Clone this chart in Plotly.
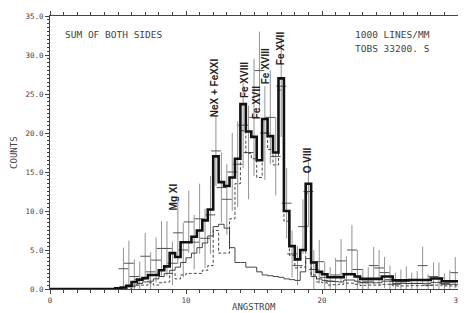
import plotly.graph_objects as go

# ---- data (0.4 Angstrom bins, 0 - 30 A) ----
bin_width = 0.4
n_bins = 75
bin_edges = [round(i * bin_width, 2) for i in range(n_bins + 1)]
bin_centers = [round((i + 0.5) * bin_width, 2) for i in range(n_bins)]

model_total = [0]*12 + [
    0.1, 0.2, 0.4, 0.9, 1.2, 1.4, 1.8, 1.8, 2.4, 2.9,
    4.6, 4.1, 6.0, 6.0, 6.7, 7.5, 8.8, 10.2, 17.0, 13.7,
    13.2, 14.3, 16.7, 23.7, 20.2, 19.5, 16.5, 21.8, 19.6, 17.5,
    27.0, 10.0, 5.5, 3.8, 5.0, 13.5, 3.4, 2.2, 1.9, 1.5,
    1.5, 1.5, 1.9, 1.9, 1.6, 1.3, 1.3, 1.3, 1.3, 1.6,
    1.6, 1.1, 1.1, 1.1, 1.15, 1.15, 1.15, 1.15, 1.35, 1.35,
    1.0, 1.0, 1.0]

model_continuum = [0]*12 + [
    0.05, 0.1, 0.3, 0.5, 0.7, 0.9, 1.0, 1.3, 1.6, 2.0,
    2.4, 2.8, 3.4, 4.0, 4.6, 5.3, 5.9, 6.8, 8.0, 8.3,
    7.8, 5.3, 3.4, 3.4, 2.8, 2.8, 2.2, 1.8, 1.7, 1.6,
    1.5, 1.3, 1.2, 1.1, 2.2, 3.9, 1.6, 1.3, 1.1, 1.0,
    0.95, 0.9, 1.15, 1.15, 1.0, 0.85, 0.8, 0.8, 0.8, 1.0,
    1.0, 0.7, 0.7, 0.7, 0.72, 0.72, 0.72, 0.72, 0.85, 0.85,
    0.6, 0.6, 0.6]

model_lines = [0]*15 + [
    0.3, 0.5, 0.5, 0.8, 0.5, 0.8, 0.9,
    2.0, 1.3, 1.8, 2.0, 2.0, 2.0, 2.4, 3.0, 7.5, 4.6,
    4.6, 9.0, 13.5, 20.3, 17.4, 16.7, 14.3, 20.0, 17.9, 15.9,
    25.5, 8.7, 4.3, 2.7, 2.8, 12.3, 1.8, 0.9, 0.8, 0.5,
    0.55, 0.6, 0.75, 0.75, 0.6, 0.45, 0.5, 0.5, 0.5, 0.6,
    0.6, 0.4, 0.4, 0.4, 0.43, 0.43, 0.43, 0.43, 0.5, 0.5,
    0.4, 0.4, 0.4]

obs_counts = [None]*13 + [
    2.6, 3.3, 1.6, 1.2, 4.2, 2.2, 3.7, 5.2, 5.2, 3.3,
    7.2, 5.0, 8.6, 6.0, 9.0, 6.5, 9.5, 17.7, 13.0, 11.5,
    15.0, 16.0, 21.0, 17.5, 22.0, 28.0, 20.0, 22.0, 17.0, 26.0,
    11.0, 4.5, 3.0, 8.0, 12.5, 2.5, 3.5, 1.5, 1.0, 1.8,
    3.6, 2.0, 5.0, 2.5, 0.8, 1.0, 3.0, 2.7, 2.1, 1.2,
    0.6, 0.9, 1.2, 0.7, 0.7, 3.0, 0.5, 1.6, 1.4, 0.7,
    0.9, 2.1]

obs_errors = [0]*13 + [
    2.7, 2.9, 2.2, 2.3, 3.0, 2.5, 2.9, 3.5, 3.5, 2.8,
    4.0, 3.5, 4.0, 3.5, 4.5, 3.8, 5.0, 4.5, 4.5, 4.5,
    5.0, 5.5, 5.5, 6.0, 7.5, 5.0, 6.0, 6.0, 5.0, 6.5,
    4.5, 3.0, 2.5, 3.5, 4.5, 2.5, 2.8, 2.0, 1.8, 2.2,
    2.8, 2.2, 3.2, 2.5, 1.8, 1.8, 2.4, 2.3, 2.0, 1.8,
    1.5, 1.6, 1.7, 1.4, 1.6, 2.4, 1.4, 1.8, 2.0, 1.3,
    1.5, 2.0]

line_labels = ["Mg XI", "NeX + FeXXI", "Fe XVIII", "Fe XVII", "Fe XVIII", "Fe XVII", "O VIII"]
label_wl = [9.15, 12.1, 14.35, 15.2, 15.85, 17.0, 18.9]
label_height = [11.8, 25.8, 26.8, 23.9, 28.5, 30.9, 16.5]

info_left = "SUM OF BOTH SIDES"
info_right = ["1000 LINES/MM", "TOBS 33200. S"]

MONO = "DejaVu Sans Mono"
INK = "#222"
GREY = "#444"

# plot-area geometry (figure pixels); page has an 8px body margin
PL, PT, PW, PH = 42, 6, 413, 275

def steps(vals):
    return vals + [vals[-1]]

def px(xp):  # page x pixel -> paper x
    return (xp - 8 - PL) / PW

def py(yp):  # page y pixel -> paper y
    return (PT + PH - (yp - 8)) / PH

fig = go.Figure()

fig.add_trace(go.Scatter(
    x=bin_centers, y=obs_counts, mode="markers",
    marker=dict(symbol="line-ew", size=7, line=dict(width=1, color="#555"), color="#555"),
    error_y=dict(type="data", array=obs_errors, thickness=0.8, width=0, color="#777"),
    showlegend=False, cliponaxis=True))

fig.add_trace(go.Scatter(x=bin_edges, y=steps(model_continuum), mode="lines",
                         line=dict(shape="hv", color="#333", width=0.9), showlegend=False))
fig.add_trace(go.Scatter(x=bin_edges, y=steps(model_lines), mode="lines",
                         line=dict(shape="hv", color="#333", width=0.9, dash="3px,2px"), showlegend=False))
fig.add_trace(go.Scatter(x=bin_edges, y=steps(model_total), mode="lines",
                         line=dict(shape="hv", color="#111", width=2.6), showlegend=False))

annotations = []
for txt, wl, h in zip(line_labels, label_wl, label_height):
    annotations.append(dict(x=wl, y=h, xref="x", yref="y", text="<b>" + txt + "</b>",
                            textangle=-90, showarrow=False,
                            font=dict(family="Liberation Sans", size=10, color=INK)))

annotations.append(dict(x=px(63), y=py(33), xref="paper", yref="paper",
                        text=info_left, showarrow=False, xanchor="left", yanchor="middle",
                        font=dict(family=MONO, size=9.5, color=GREY)))
for i, t in enumerate(info_right):
    annotations.append(dict(x=px(437), y=py(33 + 14 * i), xref="paper", yref="paper",
                            text=t, showarrow=False, xanchor="right", yanchor="middle",
                            font=dict(family=MONO, size=9.5, color=GREY)))
annotations.append(dict(x=px(256), y=py(307), xref="paper", yref="paper",
                        text="ANGSTROM", showarrow=False, xanchor="center", yanchor="middle",
                        font=dict(family=MONO, size=9, color=GREY)))
annotations.append(dict(x=px(13.5), y=py(151), xref="paper", yref="paper",
                        text="COUNTS", showarrow=False, textangle=-90, xanchor="center", yanchor="middle",
                        font=dict(family=MONO, size=9, color=GREY)))

fig.update_layout(
    width=458, height=305,
    margin=dict(l=PL, r=458 - PL - PW, t=PT, b=305 - PT - PH),
    paper_bgcolor="white", plot_bgcolor="white",
    annotations=annotations,
    xaxis=dict(range=[0, 30], tickvals=[0, 10, 20, 30], ticktext=["0", "10", "20", "30"],
               ticks="outside", ticklen=4, tickcolor=GREY, tickwidth=1,
               minor=dict(dtick=1, ticklen=3, ticks="outside", tickcolor=GREY),
               showline=True, linecolor=GREY, linewidth=1, mirror="allticks",
               showgrid=False, zeroline=False,
               tickfont=dict(family=MONO, size=7.5, color=GREY)),
    yaxis=dict(range=[0, 35], dtick=5, tickformat=".1f",
               ticks="outside", ticklen=4, tickcolor=GREY, tickwidth=1,
               minor=dict(dtick=0.5, ticklen=2, ticks="outside", tickcolor=GREY),
               showline=True, linecolor=GREY, linewidth=1, mirror="allticks",
               showgrid=False, zeroline=False,
               tickfont=dict(family=MONO, size=7.5, color=GREY)),
)

fig.write_html("out.html")
